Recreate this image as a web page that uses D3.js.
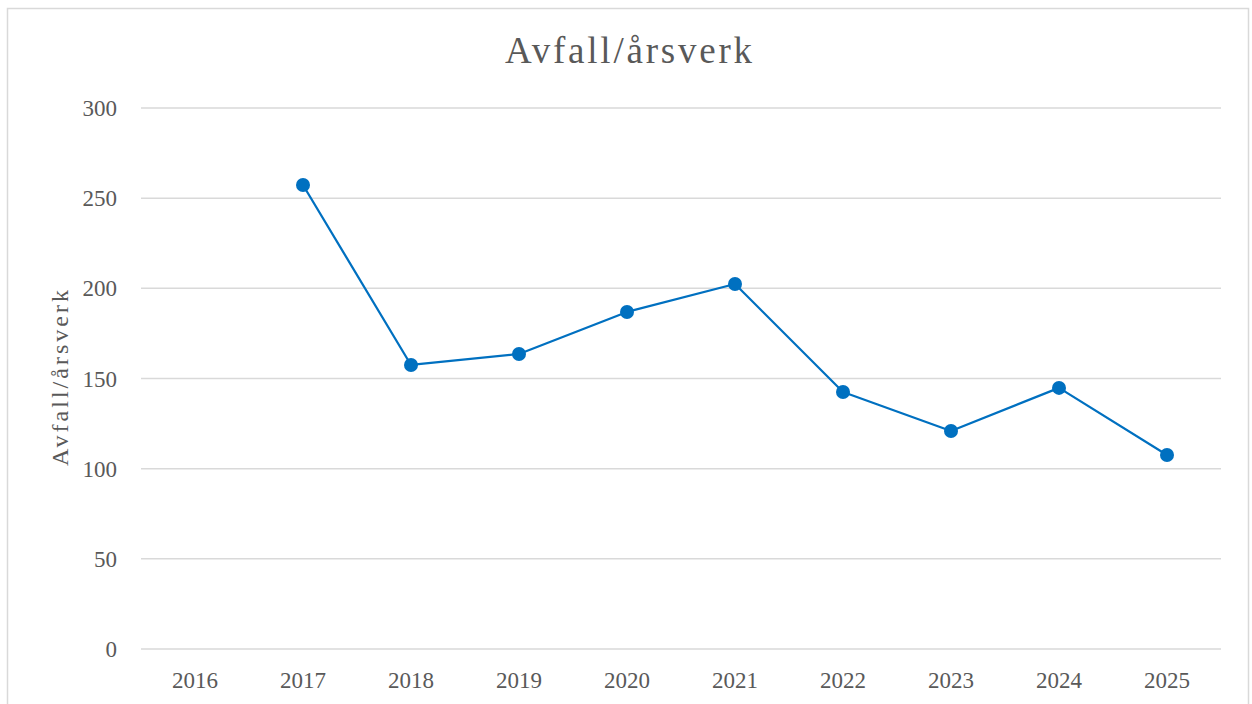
<!DOCTYPE html>
<html><head><meta charset="utf-8">
<script src="https://cdn.jsdelivr.net/npm/d3@7"></script>
<style>body{margin:0;background:#fff}svg{display:block}</style>
</head><body>
<script>
const years = ["2016","2017","2018","2019","2020","2021","2022","2023","2024","2025"];
const values = [null, 257.3, 157.5, 163.6, 186.9, 202.4, 142.5, 120.9, 144.8, 107.6];
const yTicks = [0, 50, 100, 150, 200, 250, 300];
const title = "Avfall/årsverk";
const yTitle = "Avfall/årsverk";

const W = 1252, H = 704;
const font = "'Liberation Serif', 'DejaVu Serif', serif";
const svg = d3.select("body").append("svg").attr("width", W).attr("height", H);
svg.append("rect").attr("x", 7.5).attr("y", 8.5).attr("width", 1241).attr("height", 720)
  .attr("fill", "#fff").attr("stroke", "#d9d9d9").attr("stroke-width", 1.5);

const x = d3.scaleBand().domain(years).range([141, 1221]);
const y = d3.scaleLinear().domain([0, 300]).range([649, 108]);

svg.append("g").selectAll("line").data(yTicks).join("line")
  .attr("x1", 141).attr("x2", 1221)
  .attr("y1", d => y(d)).attr("y2", d => y(d))
  .attr("stroke", "#d9d9d9").attr("stroke-width", 1.5);

svg.append("g").selectAll("text").data(yTicks).join("text")
  .attr("x", 117).attr("y", d => y(d)).attr("dy", "0.35em")
  .attr("text-anchor", "end").attr("font-family", font).attr("font-size", 23)
  .attr("fill", "#595959").text(d => d);

svg.append("g").selectAll("text").data(years).join("text")
  .attr("x", d => x(d) + x.bandwidth() / 2).attr("y", 688)
  .attr("text-anchor", "middle").attr("font-family", font).attr("font-size", 23)
  .attr("fill", "#595959").text(d => d);

svg.append("text").attr("x", 505).attr("y", 63)
  .attr("font-family", font).attr("font-size", 37)
  .attr("textLength", 247).attr("lengthAdjust", "spacing")
  .attr("fill", "#595959").text(title);

svg.append("text").attr("transform", "translate(68,466) rotate(-90)")
  .attr("font-family", font).attr("font-size", 24)
  .attr("textLength", 176).attr("lengthAdjust", "spacing")
  .attr("fill", "#595959").text(yTitle);

const data = years.map((yr, i) => ({yr, v: values[i]})).filter(d => d.v != null);
const line = d3.line().x(d => x(d.yr) + x.bandwidth() / 2).y(d => y(d.v));
svg.append("path").datum(data).attr("d", line).attr("fill", "none")
  .attr("stroke", "#0070c0").attr("stroke-width", 2.25).attr("stroke-linejoin", "round");
svg.append("g").selectAll("circle").data(data).join("circle")
  .attr("cx", d => x(d.yr) + x.bandwidth() / 2).attr("cy", d => y(d.v)).attr("r", 7)
  .attr("fill", "#0070c0");
</script>
</body></html>
